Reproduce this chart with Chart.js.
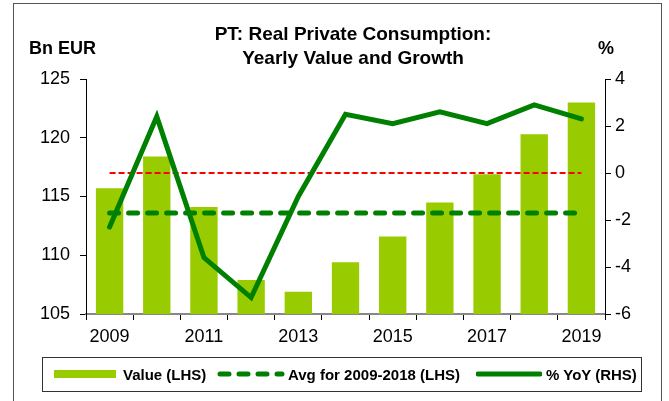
<!DOCTYPE html>
<html>
<head>
<meta charset="utf-8">
<script src="https://cdn.jsdelivr.net/npm/chart.js@4"></script>
<style>
  body { margin: 0; background: #fff; font-family: "Liberation Sans", Arial, sans-serif; }
  #wrap { position: relative; width: 669px; height: 401px; overflow: hidden; }
  #frame { position: absolute; left: 13px; top: 3px; width: 649px; height: 400px; border: 1px solid #555; box-sizing: border-box; }
  canvas { position: absolute; left: 0; top: 0; }
  .txt { position: absolute; font-weight: bold; color: #000; white-space: nowrap; }
  #title { left: 153px; width: 400px; top: 22px; text-align: center; font-size: 19px; line-height: 24px; }
  #lunit { left: 29px; top: 38px; font-size: 18px; }
  #runit { left: 598px; top: 38px; font-size: 18px; }
  #legend { position: absolute; left: 42px; top: 357px; width: 600px; height: 35px; border: 1px solid #333; box-sizing: border-box; }
  .lt { position: absolute; top: 8px; font-size: 15px; font-weight: bold; white-space: nowrap; }
  svg { position: absolute; }
</style>
</head>
<body>
<div id="wrap">
  <div id="frame"></div>
  <canvas id="chart" width="669" height="401"></canvas>
  <div id="title" class="txt">PT: Real Private Consumption:<br>Yearly Value and Growth</div>
  <div id="lunit" class="txt">Bn EUR</div>
  <div id="runit" class="txt">%</div>
  <div id="legend">
    <svg style="left:11px;top:0" width="62" height="33"><rect x="0" y="12" width="62" height="8" fill="#99CC00"/></svg>
    <div class="lt" style="left:80px">Value (LHS)</div>
    <svg style="left:174px;top:0" width="68" height="33"><line x1="3" y1="16" x2="65" y2="16" stroke="#008000" stroke-width="5" stroke-linecap="round" stroke-dasharray="9 10"/></svg>
    <div class="lt" style="left:245px">Avg for 2009-2018 (LHS)</div>
    <svg style="left:433px;top:0" width="66" height="33"><line x1="2" y1="16" x2="64" y2="16" stroke="#008000" stroke-width="5" stroke-linecap="round"/></svg>
    <div class="lt" style="left:503px">% YoY (RHS)</div>
  </div>
</div>
<script>
// values
const years = ["2009", "2010", "2011", "2012", "2013", "2014", "2015", "2016", "2017", "2018", "2019"];
const valueBn = [115.7, 118.4, 114.1, 107.9, 106.9, 109.4, 111.6, 114.5, 116.9, 120.3, 123.0];
const avgBn = [113.6, 113.6, 113.6, 113.6, 113.6, 113.6, 113.6, 113.6, 113.6, 113.6, 113.6];
const yoyPct = [-2.3, 2.4, -3.6, -5.3, -1.0, 2.5, 2.1, 2.6, 2.1, 2.9, 2.3];
const zeroPct = [0, 0, 0, 0, 0, 0, 0, 0, 0, 0, 0];
const leftTicks = [105, 110, 115, 120, 125];
const rightTicks = [-6, -4, -2, 0, 2, 4];

const tickFont = { family: "'Liberation Sans', Arial, sans-serif", size: 18 };

new Chart(document.getElementById("chart"), {
    type: "bar",
    data: {
        labels: years,
        datasets: [
            {
                type: "line",
                label: "% YoY (RHS)",
                data: yoyPct,
                yAxisID: "y1",
                borderColor: "#008000",
                borderWidth: 5,
                pointRadius: 0,
                tension: 0,
                borderJoinStyle: "miter",
                borderCapStyle: "round",
            },
            {
                type: "line",
                label: "Avg for 2009-2018 (LHS)",
                data: avgBn,
                yAxisID: "y",
                borderColor: "#008000",
                borderWidth: 5,
                borderDash: [9, 10],
                borderCapStyle: "round",
                pointRadius: 0,
            },
            {
                type: "line",
                label: "zero",
                data: zeroPct,
                yAxisID: "y1",
                borderColor: "#FF0000",
                borderWidth: 2,
                borderDash: [6, 3],
                pointRadius: 0,
            },
            {
                label: "Value (LHS)",
                data: valueBn,
                yAxisID: "y",
                backgroundColor: "#99CC00",
                barPercentage: 0.58,
                categoryPercentage: 1,
            },
        ],
    },
    options: {
        responsive: false,
        animation: false,
        layout: { padding: { top: 79, left: 0, right: 0, bottom: 0 } },
        plugins: { legend: { display: false }, tooltip: { enabled: false } },
        scales: {
            x: {
                offset: true,
                grid: { offset: true, drawOnChartArea: false, tickLength: 6, color: "#000" },
                border: { color: "#888", width: 2 },
                ticks: {
                    autoSkip: false,
                    maxRotation: 0,
                    padding: 6,
                    color: "#000",
                    font: tickFont,
                    callback: (v, i) => (i % 2 === 0 ? years[i] : ""),
                },
                afterFit: (s) => { s.height = 87; },
            },
            y: {
                position: "left",
                min: leftTicks[0],
                max: leftTicks[leftTicks.length - 1],
                afterBuildTicks: (s) => { s.ticks = leftTicks.map((v) => ({ value: v })); },
                ticks: { padding: 10, color: "#000", font: tickFont },
                grid: { drawOnChartArea: false, tickLength: 6, color: "#000" },
                border: { color: "#000" },
                afterFit: (s) => { s.width = 86; },
            },
            y1: {
                position: "right",
                min: rightTicks[0],
                max: rightTicks[rightTicks.length - 1],
                afterBuildTicks: (s) => { s.ticks = rightTicks.map((v) => ({ value: v })); },
                ticks: { padding: 4, color: "#000", font: tickFont },
                grid: { drawOnChartArea: false, tickLength: 6, color: "#000" },
                border: { color: "#000" },
                afterFit: (s) => { s.width = 64; },
            },
        },
    },
});
</script>
</body>
</html>
